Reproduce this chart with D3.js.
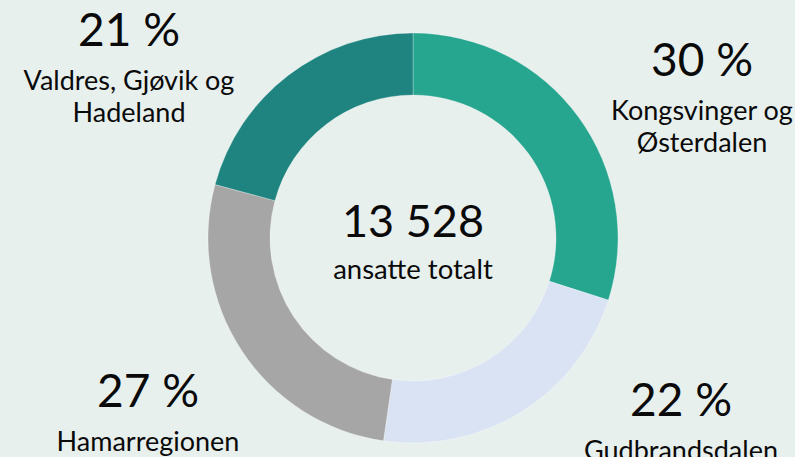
<!DOCTYPE html>
<html>
<head>
<meta charset="utf-8">
<script src="https://cdn.jsdelivr.net/npm/d3@7"></script>
<style>
  html, body { margin: 0; padding: 0; background: #E8F0EE; }
  svg { display: block; }
  text { font-family: Lato, "Open Sans", sans-serif; fill: #0a0a0a; }
</style>
</head>
<body>
<svg id="chart" width="795" height="457"></svg>
<script>
// Employees per region, clockwise from 12 o'clock
const regions = ["Kongsvinger og Østerdalen", "Gudbrandsdalen", "Hamarregionen", "Valdres, Gjøvik og Hadeland"];
const employees = [4045, 3030, 3639, 2814];
const labelLines = [["Kongsvinger og", "Østerdalen"], ["Gudbrandsdalen"], ["Hamarregionen"], ["Valdres, Gjøvik og", "Hadeland"]];
const colors = ["#26A68F", "#DAE3F3", "#A6A6A6", "#1F847F"];
const centerCaption = "ansatte totalt";

// Layout
const W = 795, H = 457;
const cx = 413, cy = 238;
const outerR = 205, innerR = 143;
const labelAnchors = [[702, 76], [681, 416], [148, 407], [129, 46]];

const svg = d3.select("#chart");
svg.append("rect").attr("width", W).attr("height", H).attr("fill", "#E8F0EE");

const total = d3.sum(employees);
const nb = d3.formatLocale({ decimal: ",", thousands: "\u00a0", grouping: [3], currency: ["", " kr"] });
const fmtTotal = nb.format(",d");

const pie = d3.pie().sort(null).value(d => d)(employees);
const arc = d3.arc().innerRadius(innerR).outerRadius(outerR);

const g = svg.append("g").attr("transform", `translate(${cx},${cy})`);
g.selectAll("path.slice")
  .data(pie)
  .join("path")
  .attr("class", "slice")
  .attr("d", arc)
  .attr("fill", (d, i) => colors[i])
  .attr("stroke", "rgba(255,255,255,0.35)")
  .attr("stroke-width", 0.8);

// Total in the middle
g.append("text")
  .attr("text-anchor", "middle")
  .attr("y", -1)
  .style("font-size", "45px")
  .text(fmtTotal(total));
g.append("text")
  .attr("text-anchor", "middle")
  .attr("y", 41)
  .style("font-size", "27.5px")
  .text(centerCaption);

// Percentage + region name per slice
const labels = svg.selectAll("g.label")
  .data(pie)
  .join("g")
  .attr("class", "label")
  .attr("transform", (d, i) => `translate(${labelAnchors[i][0]},${labelAnchors[i][1]})`);

labels.append("text")
  .attr("text-anchor", "middle")
  .style("font-size", "46px")
  .text(d => Math.round(d.value / total * 100) + " %");

labels.each(function (d, i) {
  const sel = d3.select(this);
  labelLines[i].forEach((line, k) => {
    sel.append("text")
      .attr("text-anchor", "middle")
      .attr("y", 44 + k * 32)
      .style("font-size", "27px")
      .text(line);
  });
});
</script>
</body>
</html>
